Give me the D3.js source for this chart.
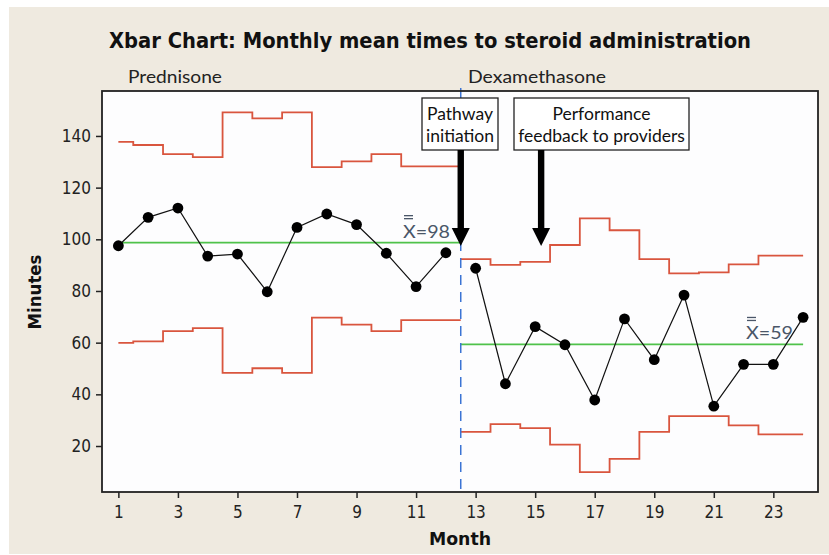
<!DOCTYPE html>
<html>
<head>
<meta charset="utf-8">
<script src="https://cdn.jsdelivr.net/npm/d3@7"></script>
<style>
  html, body { margin: 0; padding: 0; background: #ffffff; }
  svg { display: block; }
</style>
</head>
<body>
<script>
// ---------- data ----------
const predMonths = d3.range(1, 13);
const dexMonths = d3.range(13, 25);
const predMeans = [97.5, 108.5, 112.1, 93.5, 94.3, 79.7, 104.6, 109.8, 105.7, 94.6, 81.7, 94.8];
const dexMeans  = [88.8, 44.1, 66.2, 59.2, 37.8, 69.2, 53.4, 78.4, 35.4, 51.6, 51.6, 69.8];
const predUCL = [137.7, 136.5, 133.0, 131.8, 149.1, 146.8, 149.1, 127.9, 130.2, 133.0, 128.2, 128.2];
const predLCL = [59.9, 60.5, 64.5, 65.6, 48.3, 50.1, 48.3, 69.7, 67.0, 64.5, 68.7, 68.7];
const dexUCL  = [92.3, 90.1, 91.3, 97.8, 108.1, 103.5, 92.3, 86.8, 87.2, 90.3, 93.7, 93.7];
const dexLCL  = [25.5, 28.5, 26.9, 20.5, 9.9, 15.0, 25.5, 31.6, 31.6, 28.0, 24.5, 24.5];
const predCL = 98.7;
const dexCL = 59.3;
const predCLLabel = "X=98";
const dexCLLabel = "X=59";
const xTicks = [1, 3, 5, 7, 9, 11, 13, 15, 17, 19, 21, 23];
const yTicks = [20, 40, 60, 80, 100, 120, 140];
const phaseSplit = 12.5;
const phaseLabels = ["Prednisone", "Dexamethasone"];
const annotationLines = [["Pathway", "initiation"], ["Performance", "feedback to providers"]];
const annotationMonths = [12.5, 15.2];
const titleText = "Xbar Chart: Monthly mean times to steroid administration";

// ---------- layout ----------
const W = 829, H = 555;
const plot = { left: 102, right: 818, top: 91, bottom: 492 };

const svg = d3.select("body").append("svg").attr("width", W).attr("height", H);

svg.append("rect").attr("x", 9).attr("y", 7).attr("width", W - 9).attr("height", H - 8)
  .attr("fill", "#EFEAE0");

const x = d3.scaleLinear().domain([0.45, 24.5]).range([plot.left, plot.right]);
const y = d3.scaleLinear().domain([2.2, 157.4]).range([plot.bottom, plot.top]);

// plot background
svg.append("rect")
  .attr("x", plot.left).attr("y", plot.top)
  .attr("width", plot.right - plot.left).attr("height", plot.bottom - plot.top)
  .attr("fill", "#FDFDFE");

const tahoma = "'DejaVu Sans Condensed', 'DejaVu Sans', sans-serif";
const calib = "Lato, 'Open Sans', sans-serif";

// title
svg.append("text")
  .attr("x", 430).attr("y", 48)
  .attr("text-anchor", "middle")
  .attr("font-family", tahoma)
  .attr("font-weight", "bold")
  .attr("font-size", 22)
  .attr("fill", "#111")
  .attr("textLength", 642).attr("lengthAdjust", "spacingAndGlyphs")
  .text(titleText);

// phase labels
svg.append("text").attr("x", 128).attr("y", 83)
  .attr("font-family", calib).attr("font-size", 17.5).attr("fill", "#222")
  .attr("textLength", 94).attr("lengthAdjust", "spacingAndGlyphs")
  .text(phaseLabels[0]);
svg.append("text").attr("x", 468).attr("y", 83)
  .attr("font-family", calib).attr("font-size", 17.5).attr("fill", "#222")
  .attr("textLength", 138).attr("lengthAdjust", "spacingAndGlyphs")
  .text(phaseLabels[1]);

// step-line generator (segments centred on each month)
function stepPath(ms, vals, startX, endX) {
  const pts = [];
  ms.forEach((m, i) => {
    const x0 = i === 0 ? startX : m - 0.5;
    const x1 = i === ms.length - 1 ? endX : m + 0.5;
    pts.push([x(x0), y(vals[i])]);
    pts.push([x(x1), y(vals[i])]);
  });
  return d3.line()(pts);
}

const red = "#D9553E";
const g = svg.append("g");
[[predMonths, predUCL, 1, phaseSplit], [predMonths, predLCL, 1, phaseSplit],
 [dexMonths, dexUCL, phaseSplit, 24], [dexMonths, dexLCL, phaseSplit, 24]].forEach(s => {
  g.append("path").attr("d", stepPath(s[0], s[1], s[2], s[3]))
    .attr("fill", "none").attr("stroke", red).attr("stroke-width", 1.8);
});

// center lines
const green = "#4FC24A";
g.append("line").attr("x1", x(1)).attr("x2", x(phaseSplit))
  .attr("y1", y(predCL)).attr("y2", y(predCL))
  .attr("stroke", green).attr("stroke-width", 1.8);
g.append("line").attr("x1", x(phaseSplit)).attr("x2", x(24))
  .attr("y1", y(dexCL)).attr("y2", y(dexCL))
  .attr("stroke", green).attr("stroke-width", 1.8);

// phase split dashed line
g.append("line").attr("x1", x(phaseSplit)).attr("x2", x(phaseSplit))
  .attr("y1", plot.top - 3).attr("y2", plot.bottom)
  .attr("stroke", "#3B74D4").attr("stroke-width", 1.5)
  .attr("stroke-dasharray", "10,7");

// data lines & points
function series(ms, vals) {
  const data = ms.map((m, i) => [m, vals[i]]);
  g.append("path")
    .attr("d", d3.line().x(d => x(d[0])).y(d => y(d[1]))(data))
    .attr("fill", "none").attr("stroke", "#111").attr("stroke-width", 1.2);
  g.selectAll(null).data(data).enter().append("circle")
    .attr("cx", d => x(d[0])).attr("cy", d => y(d[1])).attr("r", 5.4)
    .attr("fill", "#000");
}
series(predMonths, predMeans);
series(dexMonths, dexMeans);

// center line labels (X double-bar)
function clLabel(txt, lx, ly) {
  svg.append("text").attr("x", lx).attr("y", ly)
    .attr("font-family", calib).attr("font-size", 18).attr("fill", "#4A5668")
    .attr("textLength", 47).attr("lengthAdjust", "spacingAndGlyphs")
    .text(txt);
  [-22, -19].forEach(dy => {
    svg.append("line").attr("x1", lx + 1).attr("x2", lx + 10)
      .attr("y1", ly + dy).attr("y2", ly + dy).attr("stroke", "#4A5668").attr("stroke-width", 1.3);
  });
}
clLabel(predCLLabel, 403, y(predCL) - 5);
clLabel(dexCLLabel, 746, y(dexCL) - 5);

// frame
svg.append("rect")
  .attr("x", plot.left).attr("y", plot.top)
  .attr("width", plot.right - plot.left).attr("height", plot.bottom - plot.top)
  .attr("fill", "none").attr("stroke", "#222").attr("stroke-width", 1.8);

// axes
const xAxis = svg.append("g").attr("transform", `translate(0,${plot.bottom})`)
  .call(d3.axisBottom(x).tickValues(xTicks).tickSize(6).tickPadding(8).tickFormat(d3.format("d")));
xAxis.select(".domain").remove();
xAxis.selectAll("line").attr("stroke", "#222").attr("stroke-width", 1.5);
xAxis.selectAll("text").attr("font-family", tahoma).attr("font-size", 17).attr("fill", "#222");

const yAxis = svg.append("g").attr("transform", `translate(${plot.left},0)`)
  .call(d3.axisLeft(y).tickValues(yTicks).tickSize(6).tickPadding(5));
yAxis.select(".domain").remove();
yAxis.selectAll("line").attr("stroke", "#222").attr("stroke-width", 1.5);
yAxis.selectAll("text").attr("font-family", tahoma).attr("font-size", 17).attr("fill", "#222");

// axis titles
svg.append("text").attr("x", 460).attr("y", 545).attr("text-anchor", "middle")
  .attr("font-family", tahoma).attr("font-weight", "bold").attr("font-size", 17).attr("fill", "#111")
  .attr("textLength", 62).attr("lengthAdjust", "spacingAndGlyphs")
  .text("Month");
svg.append("text").attr("transform", "translate(41,292) rotate(-90)")
  .attr("text-anchor", "middle")
  .attr("font-family", tahoma).attr("font-weight", "bold").attr("font-size", 17).attr("fill", "#111")
  .attr("textLength", 75).attr("lengthAdjust", "spacingAndGlyphs")
  .text("Minutes");

// annotation boxes and arrows
const boxes = [
  { x0: 422, x1: 498 },
  { x0: 514, x1: 689 }
];
annotationLines.forEach((lines, i) => {
  const b = boxes[i];
  svg.append("rect").attr("x", b.x0).attr("y", 98).attr("width", b.x1 - b.x0).attr("height", 52)
    .attr("fill", "#fff").attr("stroke", "#222").attr("stroke-width", 1.3);
  lines.forEach((ln, j) => {
    svg.append("text").attr("x", (b.x0 + b.x1) / 2).attr("y", 120 + j * 22)
      .attr("text-anchor", "middle").attr("font-family", calib).attr("font-size", 17.5)
      .attr("fill", "#111").text(ln);
  });
  const ax = x(annotationMonths[i]);
  svg.append("rect").attr("x", ax - 3.2).attr("y", 150).attr("width", 6.4).attr("height", 80)
    .attr("fill", "#000");
  svg.append("path")
    .attr("d", `M${ax - 9},228 L${ax + 9},228 L${ax},246 Z`)
    .attr("fill", "#000");
});
</script>
</body>
</html>
